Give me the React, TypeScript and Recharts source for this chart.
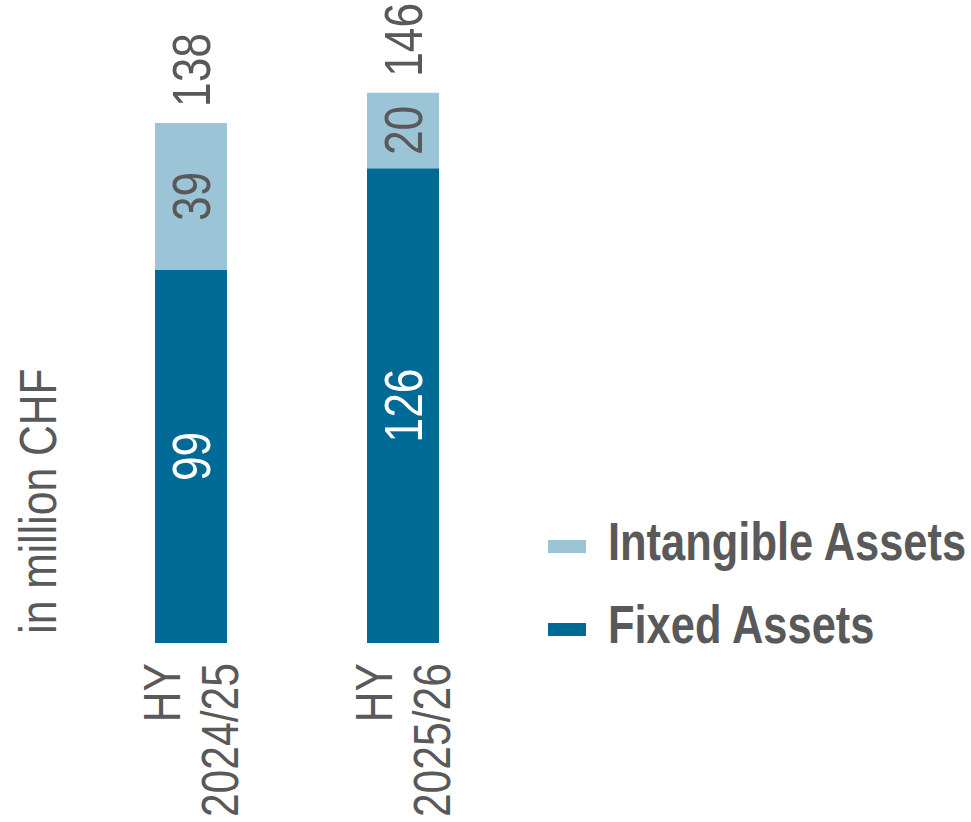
import React from 'react';
import { BarChart, Bar, XAxis, YAxis, LabelList } from 'recharts';

const categories = ['HY|2024/25', 'HY|2025/26'];
const fixedAssets = [99, 126];
const intangibleAssets = [39, 20];
const totals = [138, 146];

const data = categories.map((c, i) => ({
  name: c,
  fixed: fixedAssets[i],
  intangible: intangibleAssets[i],
  total: totals[i],
}));

const FONT = '"Liberation Sans", Arial, sans-serif';
const NARROW = 0.82;
const GRAY = '#595959';
const LIGHT = '#9BC4D6';
const DARK = '#006A96';

const Tick = (props: any) => {
  const { x, y, payload } = props;
  const [l1, l2] = String(payload.value).split('|');
  return (
    <g transform={`translate(${x},${y + 12})`}>
      <text transform={`rotate(-90) scale(${NARROW},1)`} textAnchor="end" fill={GRAY} fontSize={52} fontFamily={FONT} dy={-11}>
        {l1}
      </text>
      <text transform={`rotate(-90) scale(${NARROW},1)`} textAnchor="end" fill={GRAY} fontSize={52} fontFamily={FONT} dy={47}>
        {l2}
      </text>
    </g>
  );
};

const innerLabel = (color: string) => (props: any) => {
  const { x, y, width, height, value } = props;
  const cx = x + width / 2;
  const cy = y + height / 2;
  return (
    <text
      transform={`translate(${cx},${cy}) rotate(-90) scale(${NARROW},1)`}
      textAnchor="middle"
      dy={19}
      fill={color}
      fontSize={54}
      fontFamily={FONT}
    >
      {value}
    </text>
  );
};

const totalLabel = (props: any) => {
  const { x, y, width, value } = props;
  const cx = x + width / 2;
  return (
    <text
      transform={`translate(${cx},${y - 16}) rotate(-90) scale(${NARROW},1)`}
      textAnchor="start"
      dy={19}
      fill={GRAY}
      fontSize={54}
      fontFamily={FONT}
    >
      {value}
    </text>
  );
};

const legendItems = [
  { label: 'Intangible Assets', color: LIGHT },
  { label: 'Fixed Assets', color: DARK },
];

const YLabel = () => (
  <text
    transform={`translate(56,501) rotate(-90) scale(${NARROW},1)`}
    textAnchor="middle"
    fill={GRAY}
    fontSize={52}
    fontFamily={FONT}
  >
    in million CHF
  </text>
);

const LegendOverlay = () => (
  <svg
    width={971}
    height={822}
    style={{ position: 'absolute', left: 0, top: 0, pointerEvents: 'none' }}
  >
    {legendItems.map((it, i) => {
      const base = 560 + i * 83;
      return (
        <g key={it.label}>
          <rect x={548} y={base - 20} width={38} height={13} fill={it.color} />
          <text
            transform={`translate(608,${base}) scale(${NARROW},1)`}
            fill={GRAY}
            fontSize={53}
            fontWeight="bold"
            fontFamily={FONT}
          >
            {it.label}
          </text>
        </g>
      );
    })}
  </svg>
);

export default function App() {
  return (
    <div style={{ position: 'absolute', left: 0, top: 0, width: 971, height: 822, background: '#fff' }}>
      <BarChart
        width={971}
        height={822}
        data={data}
        margin={{ top: 40, right: 462, left: 0, bottom: 0 }}
      >
        <XAxis
          dataKey="name"
          axisLine={false}
          tickLine={false}
          interval={0}
          height={179}
          tick={<Tick />}
        />
        <YAxis
          domain={[0, 160]}
          axisLine={false}
          tickLine={false}
          tick={false}
          width={85}
          label={<YLabel />}
        />
        <Bar dataKey="fixed" stackId="a" fill={DARK} barSize={72} isAnimationActive={false}>
          <LabelList dataKey="fixed" content={innerLabel('#FFFFFF')} />
        </Bar>
        <Bar dataKey="intangible" stackId="a" fill={LIGHT} barSize={72} isAnimationActive={false}>
          <LabelList dataKey="intangible" content={innerLabel(GRAY)} />
          <LabelList dataKey="total" content={totalLabel} />
        </Bar>
      </BarChart>
      <LegendOverlay />
    </div>
  );
}
